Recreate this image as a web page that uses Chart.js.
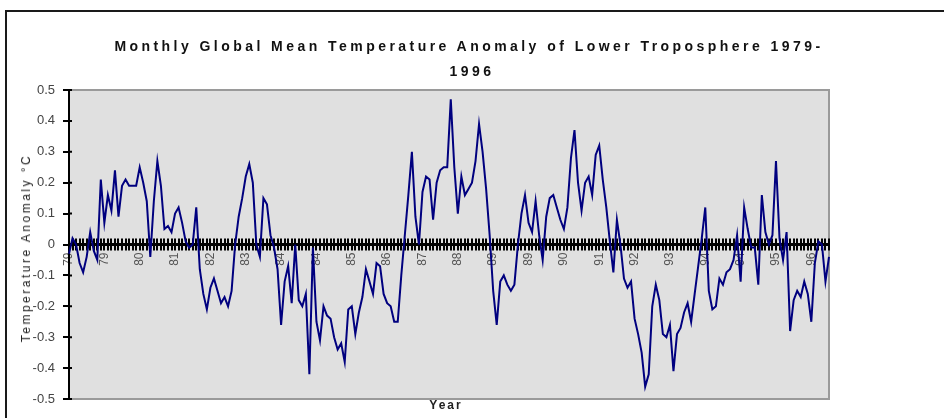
<!DOCTYPE html>
<html>
<head>
<meta charset="utf-8">
<script src="https://cdn.jsdelivr.net/npm/chart.js@4/dist/chart.umd.min.js"></script>
<style>
  html, body { margin: 0; padding: 0; background: #fff; }
  body { width: 944px; height: 418px; position: relative; overflow: hidden; font-family: "Liberation Sans", Arial, sans-serif; }
  #frame { position: absolute; left: 5px; top: 10px; width: 1200px; height: 600px; border-left: 2px solid #1a1a1a; border-top: 2px solid #1a1a1a; }
  #wrap { position: absolute; left: 0; top: 0; width: 944px; height: 418px; }
  .title { position: absolute; left: 0; width: 944px; text-align: center; font-weight: bold; font-size: 14px; letter-spacing: 3.45px; color: #111; }
  #t1 { top: 38px; left: -3px; }
  #t2 { top: 63px; left: 0px; }
  #ytitle { position: absolute; left: 26px; top: 248px; transform: translate(-50%, -50%) rotate(-90deg); white-space: nowrap; font-size: 12px; letter-spacing: 2.5px; color: #222; }
  #xtitle { position: absolute; left: 446px; top: 405px; transform: translate(-50%, -50%); font-weight: bold; font-size: 12px; letter-spacing: 2px; color: #222; }
</style>
</head>
<body>
<div id="frame"></div>
<div id="wrap"><canvas id="c" width="944" height="418"></canvas></div>
<div class="title" id="t1">Monthly Global Mean Temperature Anomaly of Lower Troposphere 1979-</div>
<div class="title" id="t2">1996</div>
<div id="ytitle">Temperature Anomaly °C</div>
<div id="xtitle">Year</div>
<script>
// Two-digit year for each calendar year shown on the axis
const years = ['79','80','81','82','83','84','85','86','87','88','89','90','91','92','93','94','95','96'];

// Monthly anomalies (°C), Jan..Dec for each year
const anom1979 = [-0.03, 0.02, 0.00, -0.06, -0.09, -0.04, 0.04, -0.02, -0.05, 0.21, 0.07, 0.16];
const anom1980 = [0.11, 0.24, 0.09, 0.19, 0.21, 0.19, 0.19, 0.19, 0.25, 0.20, 0.14, -0.04];
const anom1981 = [0.14, 0.27, 0.19, 0.05, 0.06, 0.04, 0.10, 0.12, 0.07, 0.01, -0.01, 0.00];
const anom1982 = [0.12, -0.08, -0.16, -0.21, -0.14, -0.11, -0.15, -0.19, -0.17, -0.20, -0.15, 0.00];
const anom1983 = [0.09, 0.15, 0.22, 0.26, 0.20, 0.00, -0.04, 0.15, 0.13, 0.03, -0.01, -0.08];
const anom1984 = [-0.26, -0.12, -0.07, -0.19, 0.00, -0.18, -0.20, -0.16, -0.42, -0.01, -0.25, -0.31];
const anom1985 = [-0.20, -0.23, -0.24, -0.30, -0.34, -0.32, -0.38, -0.21, -0.20, -0.29, -0.22, -0.17];
const anom1986 = [-0.08, -0.12, -0.16, -0.06, -0.07, -0.16, -0.19, -0.20, -0.25, -0.25, -0.10, 0.03];
const anom1987 = [0.16, 0.30, 0.09, 0.00, 0.17, 0.22, 0.21, 0.08, 0.20, 0.24, 0.25, 0.25];
const anom1988 = [0.47, 0.25, 0.10, 0.22, 0.16, 0.18, 0.20, 0.27, 0.39, 0.30, 0.18, 0.03];
const anom1989 = [-0.15, -0.26, -0.12, -0.10, -0.13, -0.15, -0.13, 0.00, 0.10, 0.16, 0.07, 0.04];
const anom1990 = [0.14, 0.03, -0.05, 0.09, 0.15, 0.16, 0.12, 0.08, 0.05, 0.12, 0.28, 0.37];
const anom1991 = [0.20, 0.11, 0.20, 0.22, 0.16, 0.29, 0.32, 0.21, 0.12, 0.01, -0.09, 0.08];
const anom1992 = [0.00, -0.11, -0.14, -0.12, -0.24, -0.29, -0.35, -0.46, -0.42, -0.20, -0.13, -0.18];
const anom1993 = [-0.29, -0.30, -0.26, -0.41, -0.29, -0.27, -0.22, -0.19, -0.25, -0.16, -0.07, 0.02];
const anom1994 = [0.12, -0.15, -0.21, -0.20, -0.11, -0.13, -0.09, -0.08, -0.05, 0.03, -0.12, 0.12];
const anom1995 = [0.05, -0.01, -0.01, -0.13, 0.16, 0.04, 0.00, 0.03, 0.27, 0.02, -0.05, 0.04];
const anom1996 = [-0.28, -0.18, -0.15, -0.17, -0.12, -0.16, -0.25, -0.06, 0.01, 0.00, -0.12, -0.04];

// Value axis ticks
const yTicks = [-0.5, -0.4, -0.3, -0.2, -0.1, 0, 0.1, 0.2, 0.3, 0.4, 0.5];

const perYear = [anom1979, anom1980, anom1981, anom1982, anom1983, anom1984, anom1985, anom1986, anom1987,
                 anom1988, anom1989, anom1990, anom1991, anom1992, anom1993, anom1994, anom1995, anom1996];
const labels = [];
const values = [];
perYear.forEach((months, k) => months.forEach(v => { labels.push(years[k]); values.push(v); }));

// Grey plot area with a thin grey frame
const plotArea = {
  id: 'plotArea',
  beforeDraw(chart) {
    const { ctx, chartArea: a } = chart;
    ctx.save();
    ctx.fillStyle = '#e0e0e0';
    ctx.fillRect(a.left, a.top, a.right - a.left, a.bottom - a.top);
    ctx.strokeStyle = '#9a9a9a';
    ctx.lineWidth = 2;
    ctx.beginPath();
    ctx.moveTo(a.left, a.top);
    ctx.lineTo(a.right, a.top);
    ctx.lineTo(a.right, a.bottom);
    ctx.lineTo(a.left, a.bottom);
    ctx.stroke();
    ctx.restore();
  }
};

// Tick marks crossing the zero line at every month, and inner half of value ticks
const crossTicks = {
  id: 'crossTicks',
  beforeDatasetsDraw(chart) {
    const { ctx, scales: { x, y } } = chart;
    const y0 = y.getPixelForValue(0);
    ctx.save();
    ctx.strokeStyle = '#000';
    ctx.lineWidth = 2;
    ctx.beginPath();
    for (let i = 0; i < labels.length; i++) {
      const px = Math.round(x.getPixelForValue(i));
      ctx.moveTo(px, y0 - 6);
      ctx.lineTo(px, y0 + 6);
    }
    yTicks.forEach(t => {
      const py = y.getPixelForValue(t);
      ctx.moveTo(y.right, py);
      ctx.lineTo(y.right + 3, py);
    });
    ctx.stroke();
    ctx.restore();
  }
};

new Chart(document.getElementById('c'), {
  type: 'line',
  data: {
    labels: labels,
    datasets: [{
      data: values,
      borderColor: '#00007f',
      borderWidth: 2,
      pointRadius: 0,
      tension: 0,
      fill: false
    }]
  },
  options: {
    responsive: false,
    animation: false,
    layout: { padding: { left: 0, top: 90, right: 115, bottom: 19 } },
    plugins: { legend: { display: false }, tooltip: { enabled: false }, title: { display: false } },
    scales: {
      x: {
        type: 'category',
        position: { y: 0 },
        offset: false,
        grid: { display: true, drawOnChartArea: false, drawTicks: false },
        border: { display: true, color: '#000', width: 3 },
        ticks: {
          autoSkip: false,
          minRotation: 90,
          maxRotation: 90,
          padding: 8,
          color: '#555',
          font: { family: 'Liberation Sans', size: 12 },
          callback: (val, idx) => (idx % 10 === 0 ? labels[idx] : null)
        }
      },
      y: {
        min: -0.5,
        max: 0.5,
        afterFit: (scale) => { scale.width = 69; },
        afterBuildTicks: (scale) => { scale.ticks = yTicks.map(v => ({ value: v })); },
        grid: { drawOnChartArea: false, drawTicks: true, tickLength: 6, color: '#000', lineWidth: 2 },
        border: { display: true, color: '#000', width: 2 },
        ticks: {
          padding: 8,
          color: '#444',
          font: { family: 'Liberation Sans', size: 13 },
          callback: (v) => (Math.abs(v) < 1e-9 ? '0' : Number(v).toFixed(1))
        }
      }
    }
  },
  plugins: [plotArea, crossTicks]
});
</script>
</body>
</html>
